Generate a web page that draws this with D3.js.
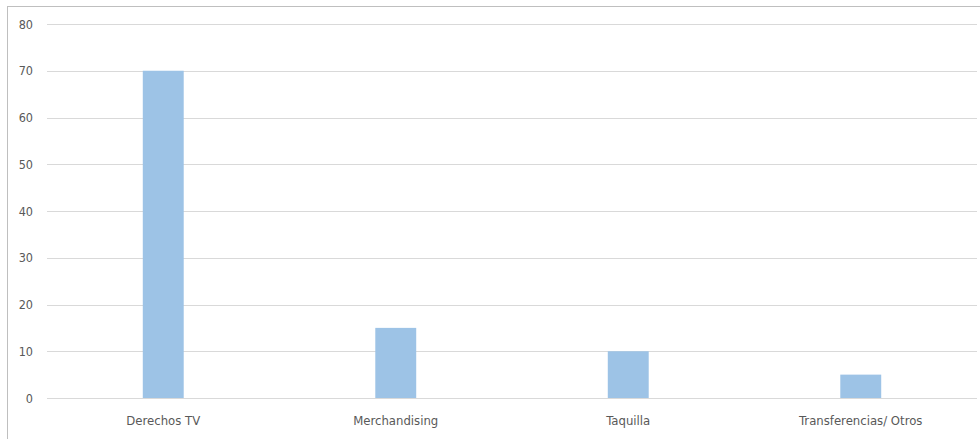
<!DOCTYPE html>
<html>
<head>
<meta charset="utf-8">
<script src="https://cdn.jsdelivr.net/npm/d3@7"></script>
<style>
  body { margin: 0; background: #fff; }
  svg text { font-family: "DejaVu Sans Condensed", "Liberation Sans Narrow", "Liberation Sans", sans-serif; fill: #595959; }
</style>
</head>
<body>
<svg id="chart" width="980" height="439"></svg>
<script>
var categories = ["Derechos TV", "Merchandising", "Taquilla", "Transferencias/ Otros"];
var values = [70, 15, 10, 5];
var yTicks = [0, 10, 20, 30, 40, 50, 60, 70, 80];

var svg = d3.select("#chart");
var padding = {top: 24, right: 3, bottom: 41, left: 47};
var width = 980 - padding.left - padding.right;
var height = 439 - padding.top - padding.bottom;

// chart frame (cropped at right and bottom)
svg.append("rect")
    .attr("x", 7.5).attr("y", 6.5)
    .attr("width", 990).attr("height", 450)
    .attr("fill", "none")
    .attr("stroke", "#bfbfbf");

var yScale = d3.scaleLinear().domain([0, 80]).range([height, 0]);
var xScale = d3.scaleBand().domain(categories).range([0, width]).paddingInner(0.824).paddingOuter(0.412);

var g = svg.append("g").attr("transform", "translate(" + padding.left + "," + padding.top + ")");

// gridlines
g.selectAll("line.grid").data(yTicks).enter()
    .append("line")
    .attr("class", "grid")
    .attr("x1", 0).attr("x2", width)
    .attr("y1", function(d) { return Math.round(yScale(d)) + 0.5; })
    .attr("y2", function(d) { return Math.round(yScale(d)) + 0.5; })
    .attr("stroke", "#d9d9d9")
    .attr("stroke-width", 1);

var yAxis = g.append("g")
    .call(d3.axisLeft(yScale).tickValues(yTicks).tickSize(0).tickPadding(14));
yAxis.select(".domain").remove();
yAxis.selectAll("text").style("font-size", "12.5px");

// bars
g.selectAll("rect.bar").data(values).enter()
    .append("rect")
    .attr("class", "bar")
    .attr("x", function(d, i) { return xScale(categories[i]); })
    .attr("width", xScale.bandwidth())
    .attr("y", function(d) { return yScale(d); })
    .attr("height", function(d) { return height - yScale(d); })
    .attr("fill", "#9dc3e6");

var xAxis = g.append("g")
    .attr("transform", "translate(0," + height + ")")
    .call(d3.axisBottom(xScale).tickSize(0).tickPadding(18));
xAxis.select(".domain").remove();
xAxis.selectAll("text").style("font-size", "13px");
</script>
</body>
</html>
